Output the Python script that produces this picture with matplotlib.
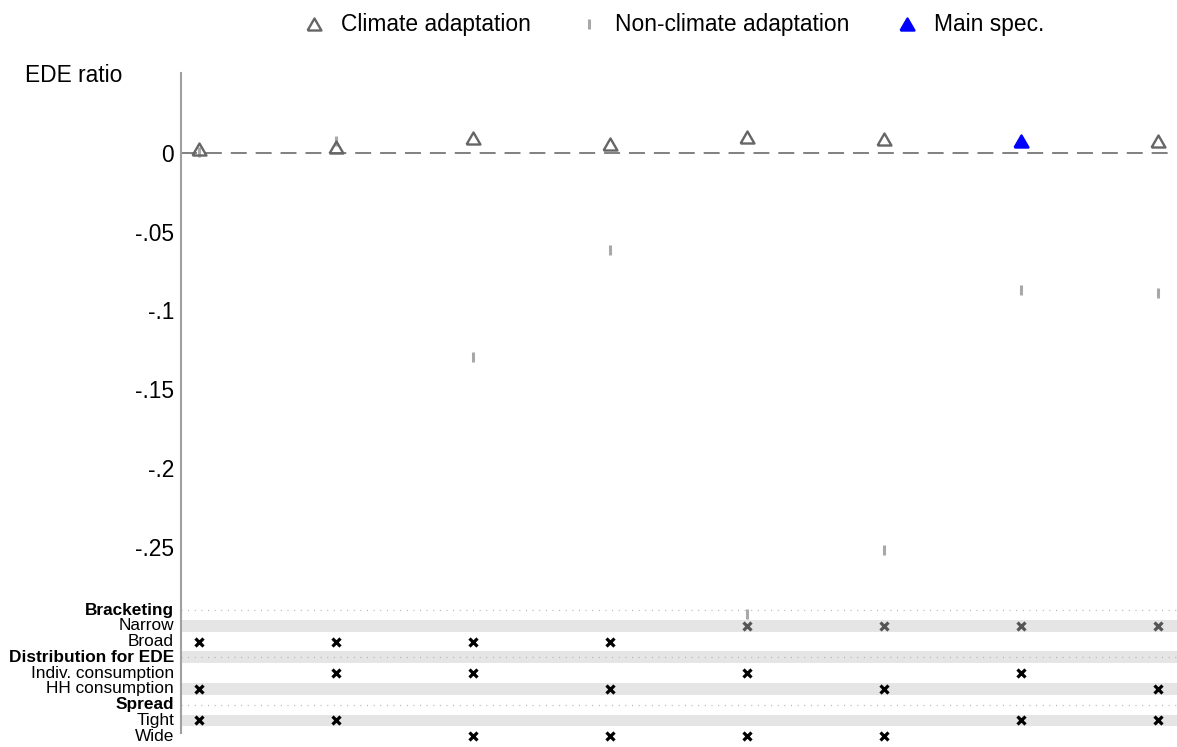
#!/usr/bin/env python3
"""
Specification chart: EDE ratio for climate vs non-climate adaptation,
with the specification choices listed below the plot.
"""
import matplotlib.pyplot as plt
from matplotlib.lines import Line2D

plt.rcParams['font.family'] = ['Liberation Sans', 'DejaVu Sans']

# Data
specs = [1, 2, 3, 4, 5, 6, 7, 8]
climate = [0.0023, 0.0036, 0.0092, 0.0055, 0.0097, 0.009, 0.0072, 0.0074]
nonclimate = [0.0008, 0.0076, -0.1293, -0.0616, -0.2928, -0.2521, -0.087, -0.0888]
main_spec = 7

yticks = [0, -0.05, -0.1, -0.15, -0.2, -0.25]
yticklabels = ['0', '-.05', '-.1', '-.15', '-.2', '-.25']

row_labels = ['Bracketing', 'Narrow', 'Broad',
              'Distribution for EDE', 'Indiv. consumption', 'HH consumption',
              'Spread', 'Tight', 'Wide']
header_rows = [0, 3, 6]
narrow = [0, 0, 0, 0, 1, 1, 1, 1]
broad = [1, 1, 1, 1, 0, 0, 0, 0]
indiv = [0, 1, 1, 0, 1, 0, 1, 0]
hh = [1, 0, 0, 1, 0, 1, 0, 1]
tight = [1, 1, 0, 0, 0, 0, 1, 1]
wide = [0, 0, 1, 1, 1, 1, 0, 0]
choices = {1: narrow, 2: broad, 4: indiv, 5: hh, 7: tight, 8: wide}

# equilateral triangle marker (Stata style)
tri = [(-1, -0.866), (1, -0.866), (0, 0.866), (-1, -0.866)]

fig = plt.figure(figsize=(11.77, 7.47), dpi=100)
ax = fig.add_axes([181 / 1177, 1 - 733 / 747, 996 / 1177, 660 / 747])

# table rows below the plot
row_top = -0.29
row_step = 0.01
row_y = [row_top - row_step * i for i in range(len(row_labels))]

for i, y in enumerate(row_y):
    if i % 2 == 1:
        ax.axhspan(y - 0.0037, y + 0.0037, color='#e5e5e5', lw=0, zorder=0)
    if i in header_rows:
        ax.axhline(y, color='#b0b0b0', lw=0.9, ls=(0, (0.8, 4.5)), zorder=1)
    weight = 'bold' if i in header_rows else 'normal'
    ax.text(-0.007, y, row_labels[i], transform=ax.get_yaxis_transform(),
            ha='right', va='center', fontsize=12.4, fontweight=weight)

for i, flags in choices.items():
    xs = [s for s, f in zip(specs, flags) if f]
    col = '#555555' if i == 1 else 'black'
    ax.plot(xs, [row_y[i]] * len(xs), 'x', color=col, ms=6, mew=2.3,
            zorder=3, clip_on=False)

# zero line
ax.axhline(0, xmax=0.993, color='#808080', lw=1.4, ls=(0, (8.2, 4.6)), zorder=1)

# estimates
ax.plot(specs, nonclimate, '|', color='#a8a8a8', ms=7.3, mew=2.2, zorder=4)
cx = [s for s in specs if s != main_spec]
cy = [c for s, c in zip(specs, climate) if s != main_spec]
ax.plot(cx, cy, ls='none', marker=tri, mfc='none', mec='#666666', ms=10, mew=1.7, zorder=5)
ax.plot([main_spec], [climate[main_spec - 1]], ls='none', marker=tri,
        color='blue', ms=10, mew=1.7, zorder=5)

ax.set_xlim(1 - 18 / 137, 8 + 19 / 137)
ax.set_ylim(-0.368, 0.0506)
ax.set_xticks([])
ax.set_yticks(yticks)
ax.set_yticklabels(yticklabels)
ax.tick_params(axis='y', length=0, pad=5, labelsize=16.4)
for side in ['top', 'right', 'bottom']:
    ax.spines[side].set_visible(False)
ax.spines['left'].set_color('#a0a0a0')
ax.spines['left'].set_linewidth(1.5)

fig.text(25 / 1177, 1 - 75.5 / 747, 'EDE ratio', fontsize=16.4, va='center', ha='left')

handles = [
    Line2D([], [], ls='none', marker=tri, mfc='none', mec='#666666', ms=10, mew=1.7),
    Line2D([], [], ls='none', marker='|', color='#a8a8a8', ms=7.3, mew=2.2),
    Line2D([], [], ls='none', marker=tri, color='blue', ms=10, mew=1.7),
]
labels = ['Climate adaptation', 'Non-climate adaptation', 'Main spec.']
fig.legend(handles, labels, loc='center left', bbox_to_anchor=(303 / 1177, 1 - 25 / 747),
           ncol=3, frameon=False, fontsize=16.4, columnspacing=2.04,
           handletextpad=0.66, handlelength=1.0, borderpad=0, borderaxespad=0)

fig.savefig('out.png', dpi=100)
